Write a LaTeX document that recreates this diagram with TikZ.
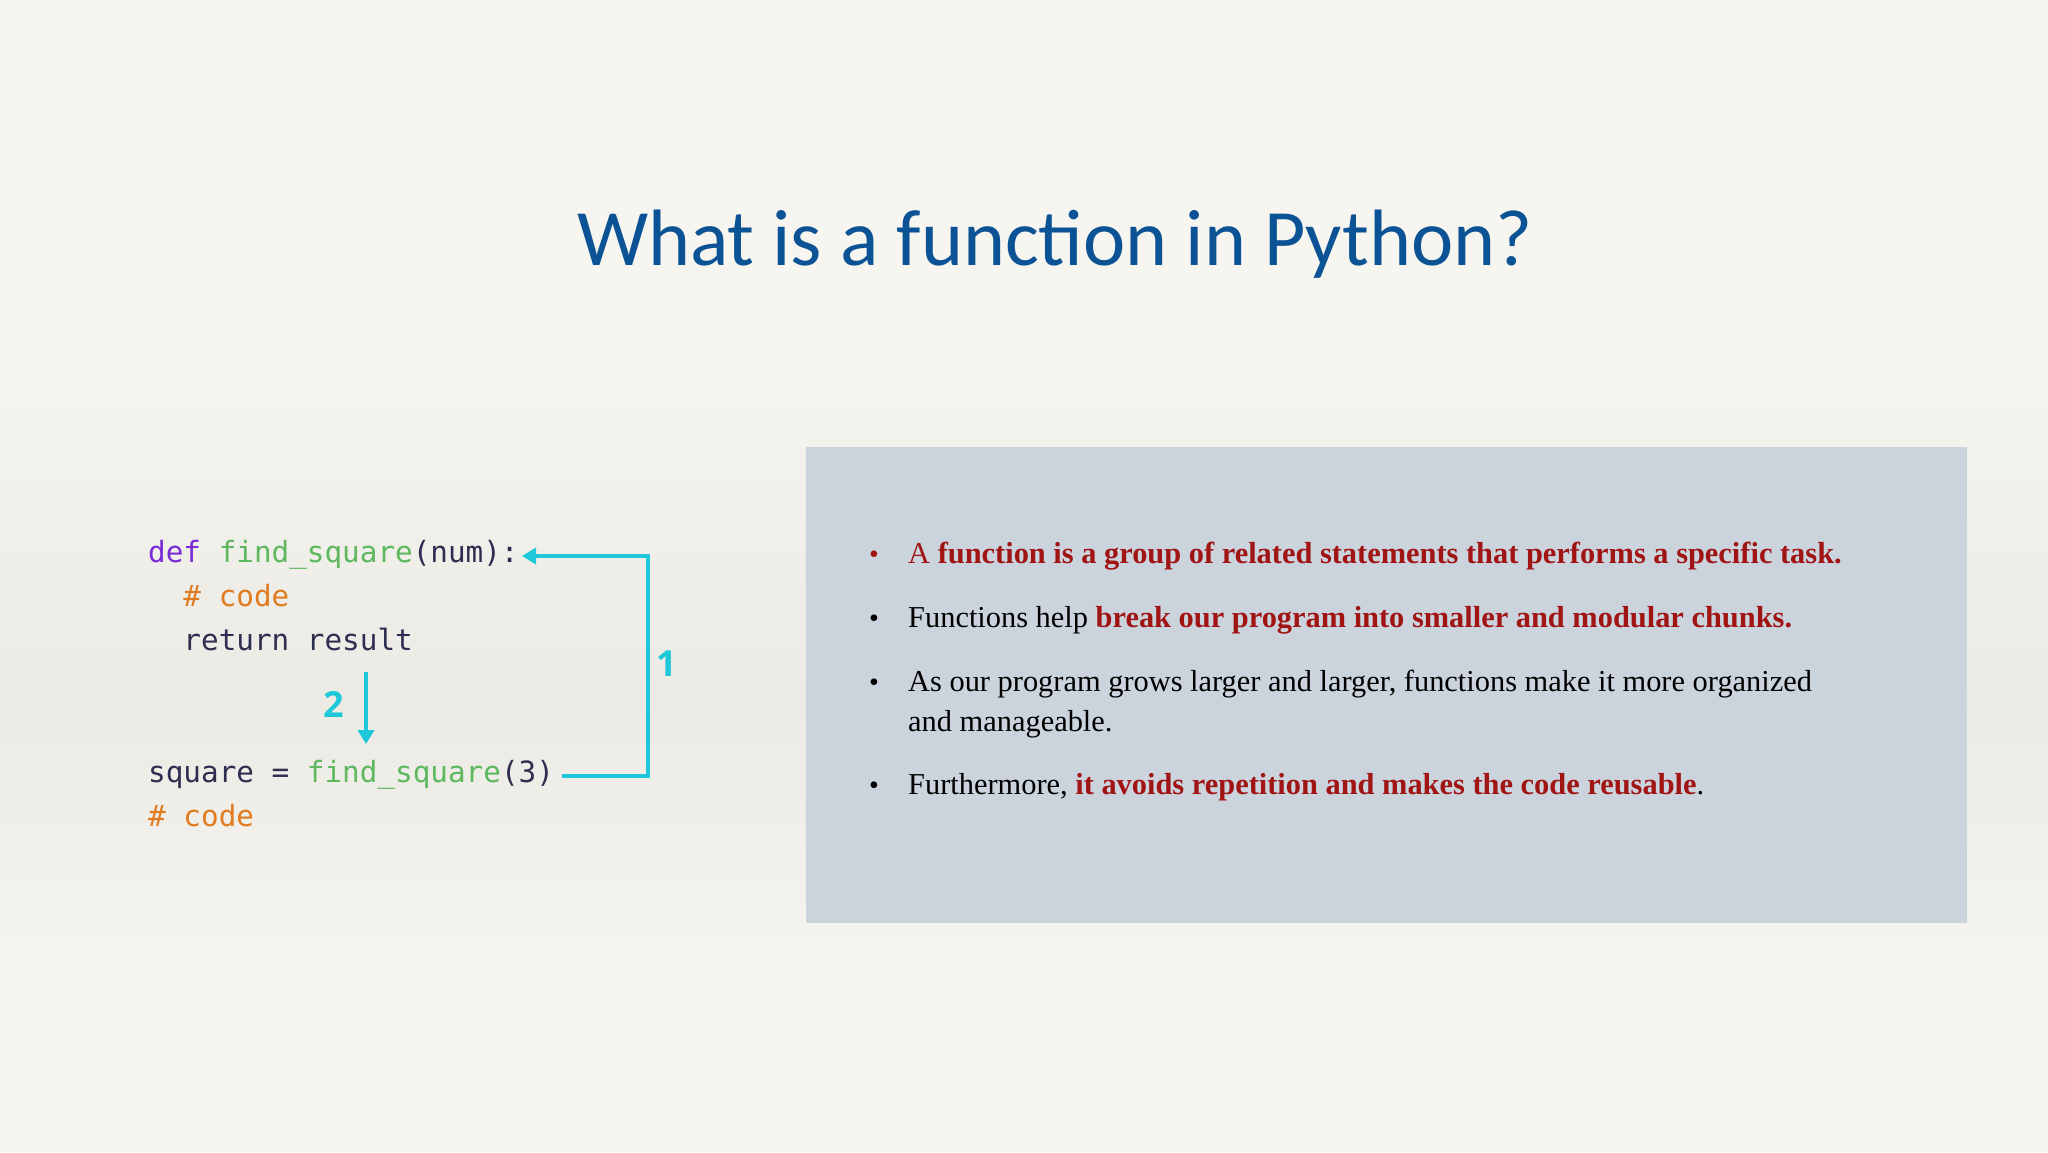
\documentclass[tikz,border=0pt]{standalone}
\usepackage{fontspec}
\setmainfont{Liberation Serif}
\newfontfamily\titlefont{Carlito}
\newfontfamily\labfont{Open Sans}
\newfontfamily\codefont{DejaVu Sans Mono}
\usetikzlibrary{arrows.meta}
\definecolor{bgc}{HTML}{F7F5F0}
\definecolor{bandc}{HTML}{ECEAE4}
\definecolor{boxc}{HTML}{CBD3DD}
\definecolor{titlec}{HTML}{0B5394}
\definecolor{redc}{HTML}{A01414}
\definecolor{kwc}{HTML}{7A2BD8}
\definecolor{fnc}{HTML}{5DB85F}
\definecolor{cmc}{HTML}{E07B20}
\definecolor{txc}{HTML}{2E2E50}
\definecolor{cyc}{HTML}{1EC8D8}
\tikzset{
 code/.style={anchor=base west,inner sep=0pt,font=\codefont\fontsize{29.3}{34}\selectfont,text=txc},
 bul/.style={anchor=base west,inner sep=0pt,font=\fontsize{30.4}{40}\selectfont,text=black},
 dot/.style={anchor=base,inner sep=0pt,font=\fontsize{28}{40}\selectfont},
 flow/.style={draw=cyc,line width=4pt,-{Triangle[length=14pt,width=16pt]}},
 lab/.style={text=cyc,font=\labfont\bfseries\fontsize{36}{40}\selectfont,inner sep=0pt}
}
\begin{document}
\begin{tikzpicture}[x=1pt,y=-1pt]
\useasboundingbox (0,0) rectangle (2048,1152);
\fill[bgc] (0,0) rectangle (2048,1152);
\shade[top color=bgc,bottom color=bandc] (0,330) rectangle (2048,700);
\shade[top color=bandc,bottom color=bgc] (0,700) rectangle (2048,1000);
\node[text=titlec,font=\titlefont\fontsize{80}{90}\selectfont] (title) at (1055,244) {What is a function in Python?};
\fill[boxc] (806,447) rectangle (1967,923);
% bullets
\node[dot,text=redc] (d1) at (874,563) {•};
\node[bul,text=redc] (b1) at (908,563) {A \textbf{function is a group of related statements that performs a specific task.}};
\node[dot] (d2) at (874,627) {•};
\node[bul] (b2) at (908,627) {Functions help \textcolor{redc}{\textbf{break our program into smaller and modular chunks.}}};
\node[dot] (d3) at (874,691) {•};
\node[bul] (b3) at (908,691) {As our program grows larger and larger, functions make it more organized};
\node[bul] (b3b) at (908,731) {and manageable.};
\node[dot] (d4) at (874,794) {•};
\node[bul] (b4) at (908,794) {Furthermore, \textcolor{redc}{\textbf{it avoids repetition and makes the code reusable}}.};
% code
\node[code] (c1) at (148,562) {\textcolor{kwc}{def} \textcolor{fnc}{find\_square}(num):};
\node[code] (c2) at (148,606) {\ \ \textcolor{cmc}{\# code}};
\node[code] (c3) at (148,650) {\ \ return result};
\node[code] (c4) at (148,782) {square = \textcolor{fnc}{find\_square}(3)};
\node[code] (c5) at (148,826) {\textcolor{cmc}{\# code}};
\coordinate (a1s) at (562,776);
\coordinate (a1e) at (522,556);
\draw[flow] (a1s) -- (648,776) -- (648,556) -- (a1e);
\node[lab] (l1) at (667,664) {1};
\coordinate (a2s) at (366,672);
\coordinate (a2e) at (366,744);
\draw[flow] (a2s) -- (a2e);
\node[lab] (l2) at (334,704) {2};
\end{tikzpicture}
\end{document}
